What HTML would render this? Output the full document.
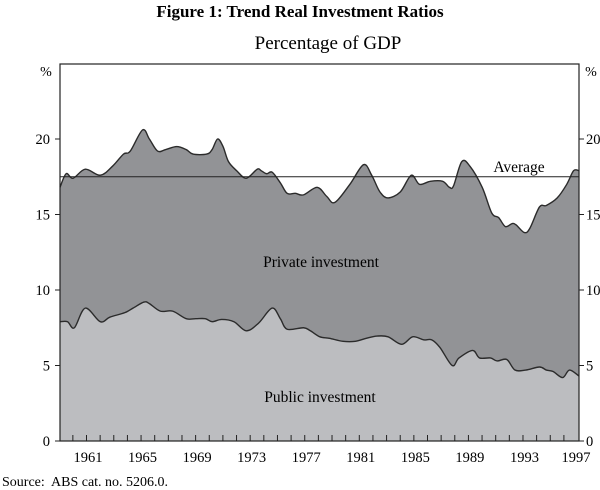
<!DOCTYPE html>
<html><head><meta charset="utf-8"><style>
body{margin:0;background:#fff;}
svg{display:block;font-family:"Liberation Serif",serif;}
</style></head><body>
<svg width="600" height="490" viewBox="0 0 600 490" id="svg">
<text x="300" y="17" text-anchor="middle" font-size="17" font-weight="bold">Figure 1: Trend Real Investment Ratios</text>
<text x="328" y="49" text-anchor="middle" font-size="19">Percentage of GDP</text>
<text x="46" y="76" text-anchor="middle" font-size="14">%</text>
<text x="591" y="76" text-anchor="middle" font-size="14">%</text>
<g id="plot"></g>
<text x="2" y="486" font-size="14" xml:space="preserve">Source:  ABS cat. no. 5206.0.</text>
</svg>
<script>
const totalYears=[1958.9,1959.4,1959.9,1960.8,1961.9,1962.8,1963.6,1964.1,1965.0,1965.5,1966.1,1966.7,1967.5,1968.2,1968.7,1969.7,1970.1,1970.5,1970.9,1971.3,1971.9,1972.6,1973.4,1973.7,1974.1,1974.5,1975.1,1975.6,1976.2,1976.8,1977.8,1978.5,1979.1,1980.2,1981.2,1981.8,1982.4,1983.0,1983.9,1984.7,1985.3,1986.1,1987.0,1987.5,1987.8,1988.4,1989.0,1989.9,1990.6,1991.1,1991.6,1992.1,1992.4,1993.0,1993.4,1994.1,1994.6,1995.4,1996.1,1996.6,1997.0];
const totalValues=[16.8,17.7,17.4,18.0,17.6,18.2,19.0,19.2,20.6,20.0,19.2,19.3,19.5,19.3,19.0,19.0,19.3,20.0,19.5,18.5,17.9,17.4,18.0,17.9,17.7,17.8,17.1,16.4,16.4,16.3,16.8,16.2,15.8,17.0,18.3,17.6,16.5,16.1,16.5,17.6,17.0,17.2,17.2,16.8,16.9,18.5,18.2,16.8,15.1,14.8,14.2,14.4,14.3,13.8,14.1,15.5,15.6,16.1,17.0,17.9,17.9];
const publicYears=[1958.9,1959.5,1960.0,1960.8,1961.9,1962.6,1963.7,1964.3,1965.1,1965.5,1966.3,1967.2,1968.2,1968.9,1969.6,1970.1,1970.8,1971.7,1972.6,1973.5,1974.5,1975.1,1975.6,1976.8,1977.3,1978.0,1978.7,1979.7,1980.6,1981.4,1982.2,1983.0,1984.0,1984.8,1985.6,1986.2,1986.8,1987.7,1988.2,1989.2,1989.7,1990.5,1991.0,1991.7,1992.3,1993.1,1994.1,1994.6,1995.1,1995.8,1996.3,1997.0];
const publicValues=[7.9,7.9,7.5,8.8,7.9,8.2,8.5,8.8,9.2,9.1,8.6,8.6,8.1,8.1,8.1,7.9,8.05,7.9,7.3,7.8,8.8,8.1,7.4,7.5,7.3,6.9,6.8,6.6,6.6,6.8,6.95,6.9,6.4,6.9,6.7,6.7,6.2,5.0,5.5,6.0,5.5,5.5,5.3,5.4,4.7,4.7,4.9,4.7,4.6,4.2,4.7,4.3];
const averageValue=17.5;
const yTicks=[0,5,10,15,20];
const xLabels=[1961,1965,1969,1973,1977,1981,1985,1989,1993,1997];

const L=60,R=579,T=64,B=441;
const x=y=>88+(y-1961)*13.64;
const yv=v=>B-v*15.1;
const NS='http://www.w3.org/2000/svg';
const g=document.getElementById('plot');
function mk(t,a){const e=document.createElementNS(NS,t);for(const k in a)e.setAttribute(k,a[k]);g.appendChild(e);return e;}
function curve(xs,vs){
  const p=xs.map((t,i)=>[Math.max(L,Math.min(R,x(t))),yv(vs[i])]);
  let d='M'+p[0][0]+','+p[0][1];
  for(let i=0;i<p.length-1;i++){
    const p0=p[i-1]||p[i],p1=p[i],p2=p[i+1],p3=p[i+2]||p2;
    const c1=[p1[0]+(p2[0]-p0[0])/6,p1[1]+(p2[1]-p0[1])/6];
    const c2=[p2[0]-(p3[0]-p1[0])/6,p2[1]-(p3[1]-p1[1])/6];
    d+=` C${c1[0].toFixed(2)},${c1[1].toFixed(2)} ${c2[0].toFixed(2)},${c2[1].toFixed(2)} ${p2[0].toFixed(2)},${p2[1].toFixed(2)}`;
  }
  return {d,first:p[0],last:p[p.length-1]};
}
const tc=curve(totalYears,totalValues);
let e=mk('path',{d:tc.d+` L${R},${B} L${L},${B} Z`,fill:'#929396'});


const pc=curve(publicYears,publicValues);
e=mk('path',{d:pc.d+` L${R},${B} L${L},${B} Z`,fill:'#bcbdc0'});


e=mk('path',{d:tc.d,fill:'none',stroke:'#2b2b2b','stroke-width':1.4});


e=mk('path',{d:pc.d,fill:'none',stroke:'#2b2b2b','stroke-width':1.4});


e=mk('line',{x1:L,x2:R,y1:yv(averageValue),y2:yv(averageValue),stroke:'#222','stroke-width':1});


e=mk('rect',{x:L,y:T,width:R-L,height:B-T,fill:'none',stroke:'#222','stroke-width':1.2});


yTicks.forEach(v=>{
  e=mk('line',{x1:L-5,x2:L,y1:yv(v),y2:yv(v),stroke:'#222'});
  
  
  e=mk('line',{x1:R,x2:R+5,y1:yv(v),y2:yv(v),stroke:'#222'});
  
  
  e=mk('text',{x:L-10,y:yv(v)+5,'text-anchor':'end','font-size':14.5});
  e.textContent=v;
  
  
  e=mk('text',{x:R+7,y:yv(v)+5,'font-size':14.5});
  e.textContent=v;
  
  
});
for(let yr=1960;yr<=1996;yr++){
  e=mk('line',{x1:x(yr)-1.5,x2:x(yr)-1.5,y1:B-6,y2:B,stroke:'#222'});
  
  
}
xLabels.forEach(yr=>{
  e=mk('text',{x:Math.min(x(yr),576),y:B+21,'text-anchor':'middle','font-size':14.5});
  e.textContent=yr;
  
  
});
e=mk('text',{x:321,y:267,'text-anchor':'middle','font-size':15.5});
e.textContent='Private investment';


e=mk('text',{x:320,y:402,'text-anchor':'middle','font-size':15.5});
e.textContent='Public investment';


e=mk('text',{x:519,y:172,'text-anchor':'middle','font-size':15.5});
e.textContent='Average';


</script>
</body></html>
